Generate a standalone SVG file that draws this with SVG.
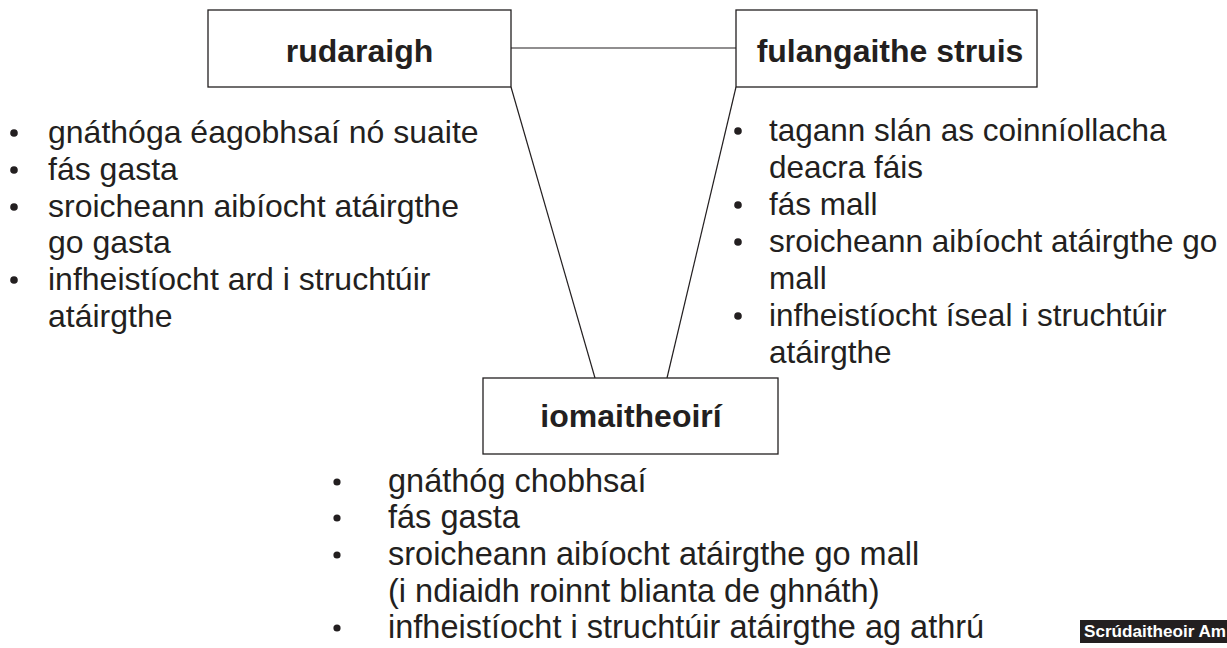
<svg xmlns="http://www.w3.org/2000/svg" width="1227" height="648" viewBox="0 0 1227 648">
<style>
.box{fill:#fff;stroke:#231f20;stroke-width:1.3}
.conn line{stroke:#231f20;stroke-width:1.2}
.h{font-family:"Liberation Sans",Arial,sans-serif;font-weight:bold;font-size:32px;fill:#231f20;text-anchor:middle}
.t{font-family:"Liberation Sans",Arial,sans-serif;font-size:32px;fill:#231f20}
.r{font-family:"Liberation Sans",Arial,sans-serif;font-size:31.5px;fill:#231f20}
.b{font-family:"Liberation Sans",Arial,sans-serif;font-size:32.5px;fill:#231f20}
.dot{fill:#231f20}
.lbl{font-family:"Liberation Sans",Arial,sans-serif;font-weight:bold;font-size:17px;fill:#fff}
</style>
<rect width="1227" height="648" fill="#fff"/>
<g id="connectors" class="conn">
<line x1="511" y1="48" x2="736" y2="48"/>
<line x1="511" y1="87" x2="595" y2="378"/>
<line x1="736" y1="87" x2="667" y2="378"/>
</g>
<g id="node-rudaraigh">
<rect class="box" x="208" y="10" width="303" height="77"/>
<text class="h" x="359.5" y="62">rudaraigh</text>
</g>
<g id="node-fulangaithe">
<rect class="box" x="736" y="10" width="301" height="77"/>
<text class="h" x="890" y="62">fulangaithe struis</text>
</g>
<g id="node-iomaitheoiri">
<rect class="box" x="483" y="378" width="295" height="76"/>
<text class="h" x="631" y="427">iomaitheoirí</text>
</g>
<g id="list-left">
<circle class="dot" cx="14" cy="133" r="3.8"/>
<circle class="dot" cx="14" cy="170" r="3.8"/>
<circle class="dot" cx="14" cy="207" r="3.8"/>
<circle class="dot" cx="14" cy="280" r="3.8"/>
<text class="t" x="48" y="143">gnáthóga éagobhsaí nó suaite</text>
<text class="t" x="48" y="180">fás gasta</text>
<text class="t" x="48" y="217">sroicheann aibíocht atáirgthe</text>
<text class="t" x="48" y="253">go gasta</text>
<text class="t" x="48" y="290">infheistíocht ard i struchtúir</text>
<text class="t" x="48" y="327">atáirgthe</text>
</g>
<g id="list-right">
<circle class="dot" cx="738" cy="131" r="3.8"/>
<circle class="dot" cx="738" cy="205" r="3.8"/>
<circle class="dot" cx="738" cy="242" r="3.8"/>
<circle class="dot" cx="738" cy="316" r="3.8"/>
<text class="r" x="769" y="141">tagann slán as coinníollacha</text>
<text class="r" x="769" y="178">deacra fáis</text>
<text class="r" x="769" y="215">fás mall</text>
<text class="r" x="769" y="252">sroicheann aibíocht atáirgthe go</text>
<text class="r" x="769" y="289">mall</text>
<text class="r" x="769" y="326">infheistíocht íseal i struchtúir</text>
<text class="r" x="769" y="363">atáirgthe</text>
</g>
<g id="list-bottom">
<circle class="dot" cx="337" cy="482" r="3.6"/>
<circle class="dot" cx="337" cy="518" r="3.6"/>
<circle class="dot" cx="337" cy="555" r="3.6"/>
<circle class="dot" cx="337" cy="628" r="3.6"/>
<text class="b" x="388" y="492">gnáthóg chobhsaí</text>
<text class="b" x="388" y="528">fás gasta</text>
<text class="b" x="388" y="565">sroicheann aibíocht atáirgthe go mall</text>
<text class="b" x="388" y="602">(i ndiaidh roinnt blianta de ghnáth)</text>
<text class="b" x="388" y="638">infheistíocht i struchtúir atáirgthe ag athrú</text>
</g>
<g id="label">
<rect x="1080" y="620" width="147" height="23" fill="#231f20"/>
<text class="lbl" x="1084" y="637" textLength="142" lengthAdjust="spacingAndGlyphs">Scrúdaitheoir Am</text>
</g>
</svg>
